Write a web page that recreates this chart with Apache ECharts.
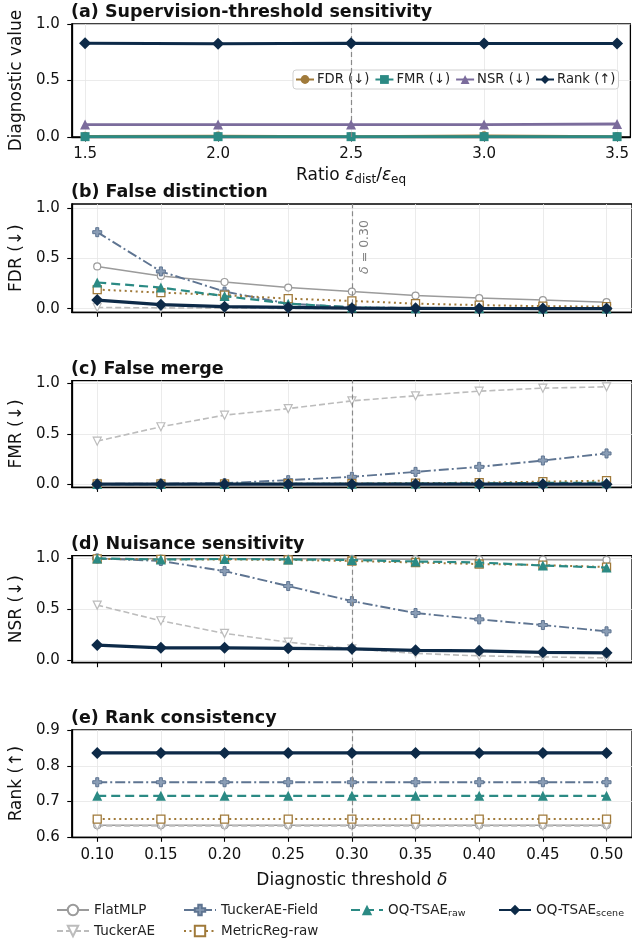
<!DOCTYPE html>
<html><head><meta charset="utf-8">
<script src="https://cdn.jsdelivr.net/npm/echarts@6/dist/echarts.min.js"></script>
<style>html,body{margin:0;padding:0;background:#fff}#c{width:632px;height:943px}</style>
</head><body><div id="c"></div>
<script>
// ---------- data ----------
const ratios = [1.5, 2.0, 2.5, 3.0, 3.5];
const ratioTicks = [1.5, 2.0, 2.5, 3.0, 3.5];
const supFDR  = [0.006, 0.008, 0.005, 0.010, 0.005];
const supFMR  = [0.003, 0.003, 0.003, 0.003, 0.003];
const supNSR  = [0.110, 0.110, 0.110, 0.110, 0.115];
const supRank = [0.830, 0.825, 0.830, 0.828, 0.828];

const deltas = [0.10, 0.15, 0.20, 0.25, 0.30, 0.35, 0.40, 0.45, 0.50];
const deltaTicks = [0.10, 0.15, 0.20, 0.25, 0.30, 0.35, 0.40, 0.45, 0.50];
const unitTicks = [0.0, 0.5, 1.0];
const rankTicks = [0.6, 0.7, 0.8, 0.9];

const methods = ['FlatMLP', 'TuckerAE', 'TuckerAE-Field', 'MetricReg-raw', 'OQ-TSAE_raw', 'OQ-TSAE_scene'];

const fdrFlat   = [0.42, 0.325, 0.265, 0.21, 0.17, 0.13, 0.105, 0.085, 0.065];
const fdrTucker = [0.012, 0.008, 0.005, 0.003, 0.002, 0.001, 0.001, 0.001, 0.001];
const fdrField  = [0.76, 0.37, 0.17, 0.05, 0.015, 0.005, 0.003, 0.002, 0.001];
const fdrMetric = [0.19, 0.16, 0.135, 0.10, 0.077, 0.05, 0.035, 0.025, 0.02];
const fdrRaw    = [0.26, 0.21, 0.125, 0.05, 0.012, 0.005, 0.003, 0.002, 0.001];
const fdrScene  = [0.085, 0.04, 0.02, 0.012, 0.005, 0.003, 0.002, 0.001, 0.001];

const fmrFlat   = [0.002, 0.002, 0.002, 0.002, 0.002, 0.002, 0.002, 0.002, 0.002];
const fmrTucker = [0.427, 0.57, 0.685, 0.75, 0.827, 0.877, 0.923, 0.953, 0.966];
const fmrField  = [0.003, 0.005, 0.01, 0.04, 0.073, 0.122, 0.172, 0.235, 0.305];
const fmrMetric = [0.002, 0.002, 0.003, 0.004, 0.006, 0.01, 0.015, 0.025, 0.035];
const fmrRaw    = [0.001, 0.001, 0.002, 0.003, 0.004, 0.006, 0.008, 0.012, 0.015];
const fmrScene  = [0.0, 0.0, 0.0, 0.0, 0.0, 0.0, 0.0, 0.0, 0.0];

const nsrFlat   = [0.998, 0.998, 0.997, 0.996, 0.995, 0.993, 0.99, 0.988, 0.985];
const nsrTucker = [0.54, 0.386, 0.262, 0.175, 0.11, 0.065, 0.04, 0.03, 0.02];
const nsrField  = [1.0, 0.975, 0.875, 0.728, 0.58, 0.462, 0.40, 0.344, 0.282];
const nsrMetric = [0.995, 0.99, 0.99, 0.985, 0.975, 0.96, 0.945, 0.935, 0.915];
const nsrRaw    = [1.0, 0.99, 0.995, 0.99, 0.985, 0.97, 0.96, 0.93, 0.91];
const nsrScene  = [0.147, 0.12, 0.12, 0.115, 0.11, 0.095, 0.09, 0.075, 0.07];

const rankFlat   = [0.634, 0.634, 0.634, 0.634, 0.634, 0.634, 0.634, 0.634, 0.634];
const rankTucker = [0.632, 0.632, 0.632, 0.632, 0.632, 0.632, 0.632, 0.632, 0.632];
const rankField  = [0.754, 0.754, 0.754, 0.754, 0.754, 0.754, 0.754, 0.754, 0.754];
const rankMetric = [0.651, 0.651, 0.651, 0.651, 0.651, 0.651, 0.651, 0.651, 0.651];
const rankRaw    = [0.716, 0.716, 0.716, 0.716, 0.716, 0.716, 0.716, 0.716, 0.716];
const rankScene  = [0.836, 0.836, 0.836, 0.836, 0.836, 0.836, 0.836, 0.836, 0.836];

const refRatio = 2.5;
const refDelta = 0.30;

// ---------- styles ----------
const FONT = 'DejaVu Sans';
const NAVY = '#0d2a48', TEAL = '#2b8a84', BROWN = '#a07a3a', SLATE = '#5e7491',
      GRAY = '#9b9b9b', LGRAY = '#bcbcbc', PURPLE = '#7b6c9c';
const PLUS = 'path://M4,0H8V4H12V8H8V12H4V8H0V4H4Z';
const ST = {
  'FlatMLP':       {color: GRAY, lw: 1.5, dash: 'solid', symbol: 'circle', size: 7, fill: '#fff', bw: 1.2, z: 3},
  'TuckerAE':      {color: LGRAY, lw: 1.6, dash: [6, 3], symbol: 'triangle', rot: 180, size: 8, fill: '#fff', bw: 1.2, z: 3},
  'TuckerAE-Field':{color: SLATE, lw: 1.9, dash: [10, 3, 2, 3], symbol: PLUS, size: 9, fill: '#8a9db5', bw: 1, z: 4},
  'MetricReg-raw': {color: BROWN, lw: 2, dash: [2, 3.5], symbol: 'rect', size: 8, fill: '#fff', bw: 1.3, z: 4},
  'OQ-TSAE_raw':   {color: TEAL, lw: 2.2, dash: [9, 5], symbol: 'triangle', size: 10, fill: TEAL, bw: 0, z: 5},
  'OQ-TSAE_scene': {color: NAVY, lw: 3.2, dash: 'solid', symbol: 'diamond', size: 12, fill: NAVY, bw: 0, z: 6}
};
const SUP = {
  'FDR (↓)':  {color: BROWN, lw: 2.6, dash: 'solid', symbol: 'circle', size: 9, fill: BROWN, bw: 0, z: 3},
  'FMR (↓)':  {color: TEAL, lw: 2.6, dash: 'solid', symbol: 'rect', size: 9, fill: TEAL, bw: 0, z: 4},
  'NSR (↓)':  {color: PURPLE, lw: 2.8, dash: 'solid', symbol: 'triangle', size: 10, fill: PURPLE, bw: 0, z: 5},
  'Rank (↑)': {color: NAVY, lw: 3, dash: 'solid', symbol: 'diamond', size: 12, fill: NAVY, bw: 0, z: 6}
};

const GRIDS = [
  {top: 24, height: 113},
  {top: 204, height: 108.3},
  {top: 380.6, height: 106.8},
  {top: 555.7, height: 107},
  {top: 730, height: 107.3}
];
const YR = [[0, 1.0], [-0.036, 1.04], [-0.032, 1.028], [-0.027, 1.027], [0.6, 0.9]];
const YNAMES = ['Diagnostic value', 'FDR (↓)', 'FMR (↓)', 'NSR (↓)', 'Rank (↑)'];
const TITLES = ['(a) Supervision-threshold sensitivity', '(b) False distinction', '(c) False merge', '(d) Nuisance sensitivity', '(e) Rank consistency'];

const txt = {fontFamily: FONT, color: '#111'};

function mk(name, gi, xs, ys, st, extra) {
  return Object.assign({
    type: 'line', name, xAxisIndex: gi, yAxisIndex: gi,
    data: xs.map((x, i) => [x, ys[i]]),
    animation: false, symbol: st.symbol, symbolSize: st.size, symbolRotate: st.rot || 0,
    lineStyle: {color: st.color, width: st.lw, type: st.dash},
    itemStyle: {color: st.fill, borderColor: st.color, borderWidth: st.bw},
    z: st.z, emphasis: {disabled: true}
  }, extra || {});
}
function refLine(v, withLabel) {
  return {
    silent: true, animation: false, symbol: 'none',
    lineStyle: {type: [5, 3], color: '#8a8a8a', width: 1.2},
    label: withLabel ? {
      show: true, position: 'insideEndBottom', distance: [16, 6],
      formatter: '{i|δ} = 0.30', color: '#808080', fontSize: 12.5, fontFamily: FONT,
      rich: {i: {fontStyle: 'italic', fontSize: 12.5, color: '#808080', fontFamily: FONT}}
    } : {show: false},
    data: [{xAxis: v}]
  };
}

const grid = GRIDS.map(g => ({left: 71, width: 563, top: g.top, height: g.height, show: true,
  borderColor: '#000', borderWidth: 1.3, backgroundColor: 'transparent'}));

const xAxis = GRIDS.map((g, i) => {
  const isA = i === 0;
  const ticks = isA ? ratioTicks : deltaTicks;
  return {
    type: 'value', gridIndex: i, min: isA ? 1.45 : 0.08, max: isA ? 3.55 : 0.52,
    name: i === 0 ? 'Ratio {i|ε}{s|dist}/{i|ε}{s|eq}' : (i === 4 ? 'Diagnostic threshold {i|δ}' : ''),
    nameLocation: 'middle', nameGap: i === 0 ? 28 : 35,
    nameTextStyle: Object.assign({fontSize: 17, rich: {
      i: {fontStyle: 'italic', fontSize: 17, fontFamily: FONT, color: '#111'},
      s: {fontSize: 12, fontFamily: FONT, color: '#111', padding: [9, 0, 0, 0]}
    }}, txt),
    axisLine: {show: true, onZero: false, lineStyle: {color: '#000', width: 1.3}},
    axisTick: {show: true, inside: false, length: 4.5, customValues: ticks, lineStyle: {color: '#000', width: 1.1}},
    axisLabel: Object.assign({show: isA || i === 4, customValues: ticks, fontSize: 15, margin: 10,
      formatter: v => v.toFixed(isA ? 1 : 2)}, txt),
    splitLine: {show: true, lineStyle: {color: '#e6e6e6', width: 0.8}}
  };
});

const yAxis = GRIDS.map((g, i) => {
  const ticks = i === 4 ? rankTicks : unitTicks;
  return {
    type: 'value', gridIndex: i, min: YR[i][0], max: YR[i][1],
    name: YNAMES[i], nameLocation: 'middle', nameGap: 45,
    nameTextStyle: Object.assign({fontSize: 17}, txt),
    axisLine: {show: true, onZero: false, lineStyle: {color: '#000', width: 1.3}},
    axisTick: {show: true, inside: false, length: 4.5, customValues: ticks, lineStyle: {color: '#000', width: 1.1}},
    axisLabel: Object.assign({customValues: ticks, fontSize: 15, margin: 12, formatter: v => v.toFixed(1)}, txt),
    splitLine: {show: true, lineStyle: {color: '#e6e6e6', width: 0.8}}
  };
});

const title = GRIDS.map((g, i) => ({
  text: TITLES[i], left: 71, top: g.top - 22, padding: 0,
  textStyle: {fontFamily: FONT, fontSize: 17.5, fontWeight: 'bold', color: '#111', lineHeight: 21}
}));

const series = [];
// panel a
series.push(mk('FDR (↓)', 0, ratios, supFDR, SUP['FDR (↓)'], {markLine: refLine(refRatio, false)}));
series.push(mk('FMR (↓)', 0, ratios, supFMR, SUP['FMR (↓)']));
series.push(mk('NSR (↓)', 0, ratios, supNSR, SUP['NSR (↓)']));
series.push(mk('Rank (↑)', 0, ratios, supRank, SUP['Rank (↑)']));
// panels b-e
const panelData = [
  [fdrFlat, fdrTucker, fdrField, fdrMetric, fdrRaw, fdrScene],
  [fmrFlat, fmrTucker, fmrField, fmrMetric, fmrRaw, fmrScene],
  [nsrFlat, nsrTucker, nsrField, nsrMetric, nsrRaw, nsrScene],
  [rankFlat, rankTucker, rankField, rankMetric, rankRaw, rankScene]
];
panelData.forEach((arrs, p) => {
  const gi = p + 1;
  methods.forEach((m, k) => {
    series.push(mk(m, gi, deltas, arrs[k], ST[m], k === 0 ? {markLine: refLine(refDelta, gi === 1)} : {}));
  });
});

const subRich = {
  n: {fontFamily: FONT, fontSize: 13.5, color: '#222'},
  s: {fontFamily: FONT, fontSize: 9.5, color: '#222', padding: [7, 0, 0, 0]}
};
const fmtName = n => {
  const k = n.indexOf('_');
  return k < 0 ? '{n|' + n + '}' : '{n|' + n.slice(0, k) + '}{s|' + n.slice(k + 1) + '}';
};
function botLegend(names, left) {
  return {data: names, left, top: 903, orient: 'vertical', itemWidth: 32, itemHeight: 13, itemGap: 7,
    padding: 0, selectedMode: false, formatter: fmtName,
    textStyle: {fontFamily: FONT, fontSize: 13.5, color: '#222', rich: subRich}};
}
const legend = [
  {data: ['FDR (↓)', 'FMR (↓)', 'NSR (↓)', 'Rank (↑)'], left: 293, top: 70, width: 360, orient: 'horizontal',
   itemWidth: 18, itemHeight: 11, itemGap: 5, padding: [3, 3, 3, 2], selectedMode: false,
   borderColor: '#d0d0d0', borderWidth: 1, borderRadius: 3, backgroundColor: 'rgba(255,255,255,0.85)',
   textStyle: {fontFamily: FONT, fontSize: 13.2, color: '#222', padding: [0, 0, 0, -2]}},
  botLegend(['FlatMLP', 'TuckerAE'], 56),
  botLegend(['TuckerAE-Field', 'MetricReg-raw'], 183),
  botLegend(['OQ-TSAE_raw'], 350),
  botLegend(['OQ-TSAE_scene'], 498)
];

const chart = echarts.init(document.getElementById('c'), null, {renderer: 'canvas'});
chart.setOption({animation: false, backgroundColor: '#fff', title, grid, xAxis, yAxis, legend, series});
</script>
</body></html>
